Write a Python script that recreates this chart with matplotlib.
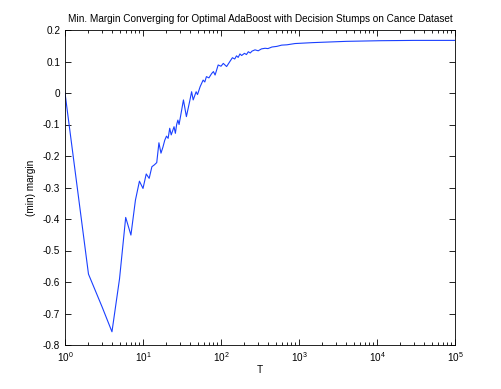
import numpy as np
import matplotlib
matplotlib.use('Agg')
from matplotlib import pyplot as plt
from matplotlib.ticker import LogLocator, FixedLocator

plt.rcParams['font.family'] = ['Liberation Sans', 'DejaVu Sans']
plt.rcParams['axes.unicode_minus'] = False

# boosting rounds and min margin
T = [1, 2, 3, 4, 5, 6, 7, 8, 9, 10,
     11, 12, 13, 14, 15, 16, 17, 18, 19, 20,
     21, 22, 23, 24, 25, 26, 27, 28, 29, 30,
     33, 36, 40, 42, 44, 48, 50, 54, 59, 62,
     65, 70, 76, 80, 84, 92, 100, 107, 118, 130,
     140, 150, 158, 166, 175, 184, 200, 212, 224, 237,
     250, 273, 300, 330, 367, 400, 450, 520, 600, 700,
     889, 1520, 4070, 11000, 30000, 100000]
margin = [0.0, -0.575, -0.68, -0.758, -0.59, -0.395, -0.451, -0.34, -0.28, -0.303,
          -0.257, -0.271, -0.234, -0.228, -0.221, -0.158, -0.191, -0.172, -0.15, -0.137,
          -0.144, -0.112, -0.133, -0.12, -0.107, -0.128, -0.10, -0.086, -0.10, -0.08,
          -0.022, -0.075, -0.022, 0.004, -0.022, 0.004, -0.005, 0.02, 0.041, 0.035,
          0.052, 0.048, 0.062, 0.068, 0.057, 0.089, 0.085, 0.094, 0.084, 0.10,
          0.112, 0.108, 0.118, 0.113, 0.124, 0.119, 0.126, 0.122, 0.131, 0.127,
          0.133, 0.137, 0.134, 0.140, 0.142, 0.141, 0.146, 0.148, 0.152, 0.153,
          0.157, 0.160, 0.164, 0.166, 0.167, 0.167]
yticks = [-0.8, -0.7, -0.6, -0.5, -0.4, -0.3, -0.2, -0.1, 0, 0.1, 0.2]
ylabels = ['-0.8', '-0.7', '-0.6', '-0.5', '-0.4', '-0.3', '-0.2', '-0.1', '0', '0.1', '0.2']

fig = plt.figure(figsize=(5.02, 3.89), dpi=100)
ax = fig.add_axes([65 / 502, 44 / 389, 390 / 502, 315 / 389])
ax.plot(T, margin, color=(0.1, 0.25, 1.0), lw=0.8)

ax.set_xscale('log')
ax.set_xlim(1, 1e5)
ax.set_ylim(-0.8, 0.2)
ax.xaxis.set_major_locator(LogLocator(base=10, numticks=10))
ax.xaxis.set_minor_locator(LogLocator(base=10, subs=np.arange(2, 10), numticks=20))
ax.yaxis.set_major_locator(FixedLocator(yticks))
ax.set_yticklabels(ylabels)

ax.tick_params(which='both', direction='in', top=True, right=True, labelsize=7.2, width=0.6)
ax.tick_params(which='major', length=4)
ax.tick_params(which='minor', length=2)
for s in ax.spines.values():
    s.set_linewidth(0.6)

ax.set_title('Min. Margin Converging for Optimal AdaBoost with Decision Stumps on Cance Dataset',
             fontsize=7.2, pad=6)
ax.set_xlabel('T', fontsize=7.2, labelpad=1)
ax.set_ylabel('(min) margin', fontsize=7.2, labelpad=5)

plt.savefig('out.png', dpi=100)
